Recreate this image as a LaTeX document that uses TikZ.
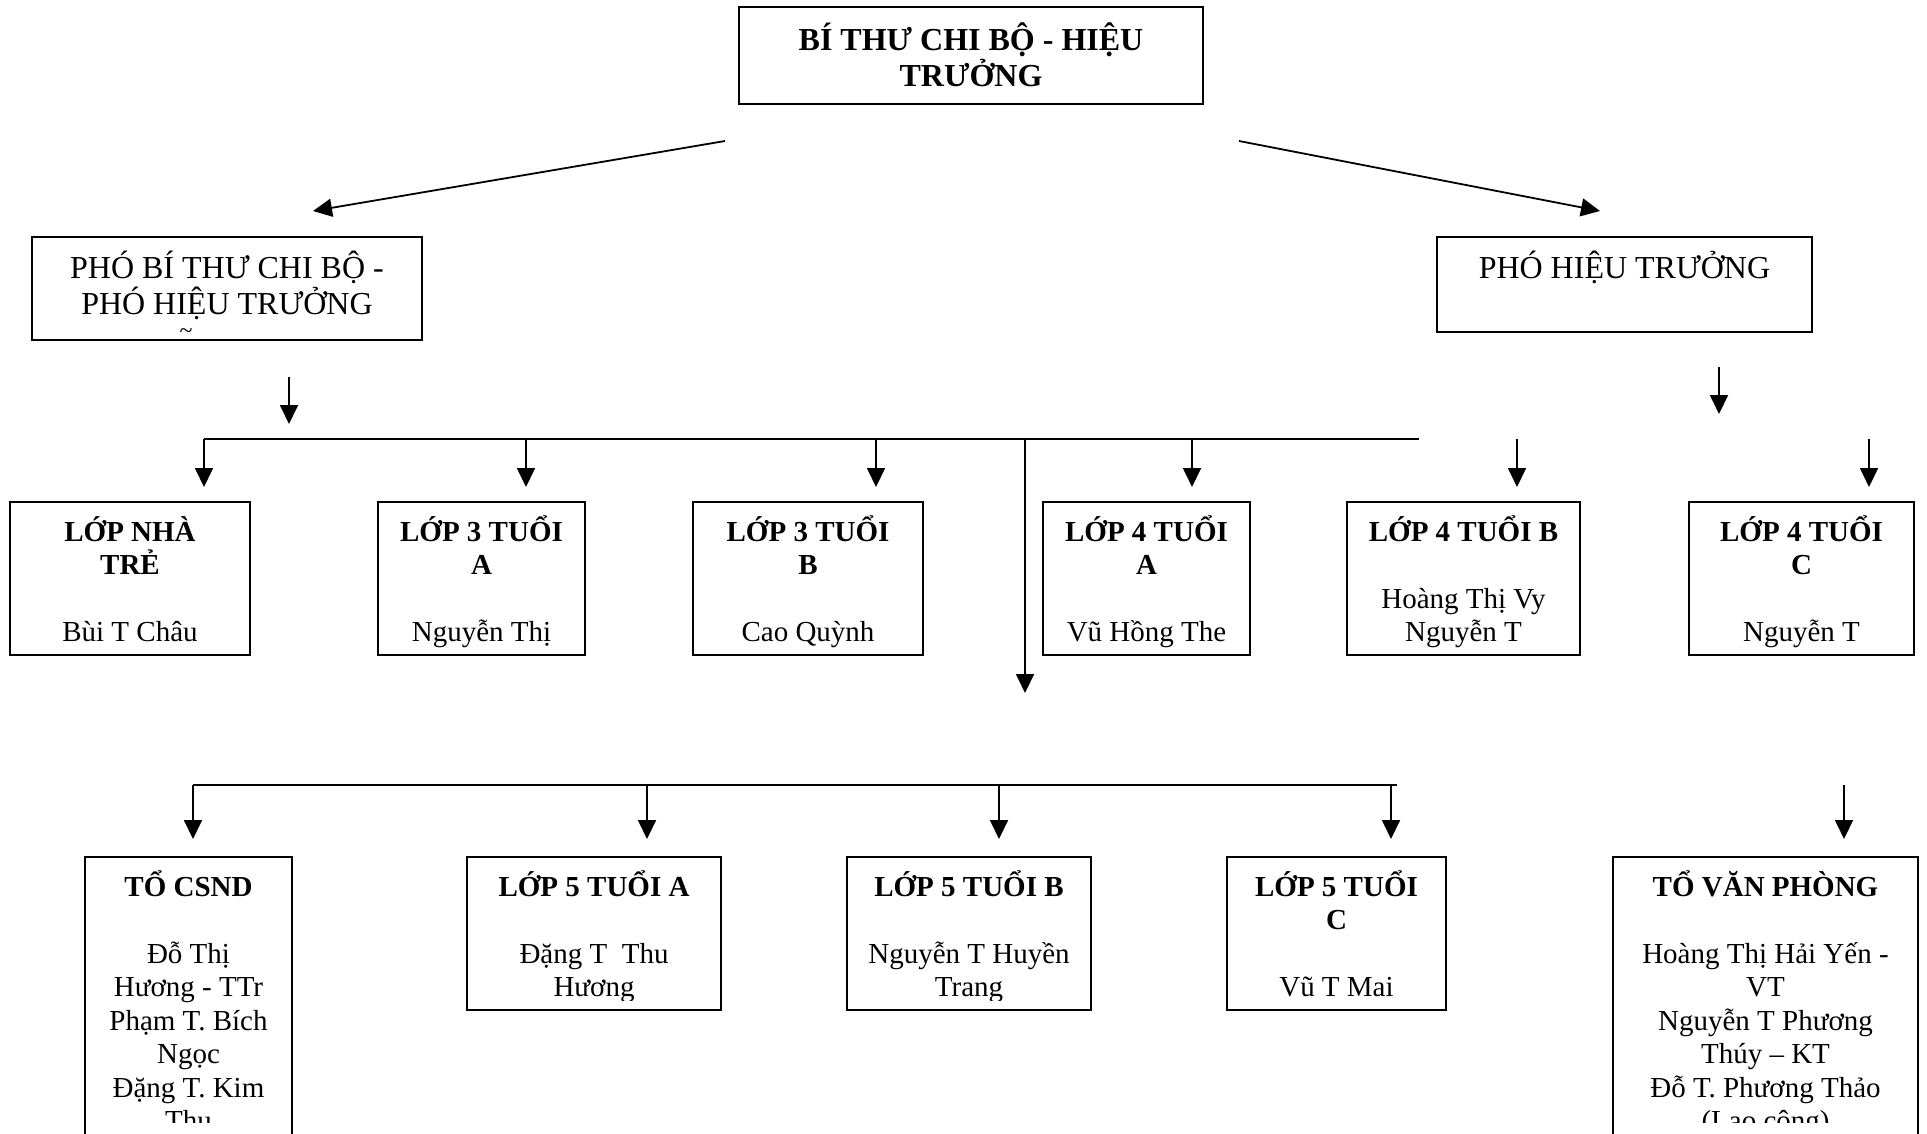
\documentclass[tikz,border=0pt]{standalone}
\usepackage{fontspec}
\setmainfont{Liberation Serif}
\usetikzlibrary{arrows.meta}
\tikzset{
  orgframe/.style={draw, line width=1.8pt, inner sep=0pt, outer sep=0pt},
  txt/.style={inner sep=0pt, font={\fontsize{29}{33.5}\selectfont}},
  bigtxt/.style={inner sep=0pt, font={\fontsize{32}{36.5}\selectfont}},
  arr/.style={-{Triangle[length=19pt,width=18pt]}, line width=1.8pt},
  ln/.style={line width=1.8pt}
}
% #1 name, #2 x1, #3 y1, #4 x2, #5 y2, #6 clip y, #7 first baseline offset, #8 text style, #9 text
\newcommand{\orgbox}[9]{%
  \pgfmathsetmacro\obw{#4-#2}%
  \node[orgframe, anchor=north west, minimum width={#4-#2}, minimum height={#5-#3}] (#1) at (#2,#3) {};
  \begin{scope}
    \clip (#2,#3) rectangle (#4,#6);
    \node[#8, anchor=base] (#1-t) at ({(#2+#4)/2},{#3+#7}) {\parbox[t]{\obw pt}{\centering #9}};
  \end{scope}}
\begin{document}
\begin{tikzpicture}[x=1pt,y=-1pt]
\useasboundingbox (0,0) rectangle (1927,1133);
\clip (0,0) rectangle (1927,1133);

% level 0
\orgbox{top}{739}{7}{1203}{104}{104}{43}{bigtxt}{\textbf{BÍ THƯ CHI BỘ - HIỆU\\TRƯỞNG}}
% level 1
\orgbox{pbt}{32}{237}{422}{340}{340}{41}{bigtxt}{PHÓ BÍ THƯ CHI BỘ -\\PHÓ HIỆU TRƯỞNG}
\node[inner sep=0pt, font={\fontsize{24}{24}\selectfont}] (stray) at (186,334) {\textasciitilde};
\orgbox{pht}{1437}{237}{1812}{332}{332}{41}{bigtxt}{PHÓ HIỆU TRƯỞNG}

% level 2 row 1
\orgbox{l1}{10}{502}{250}{655}{647}{39}{txt}{\textbf{LỚP NHÀ\\TRẺ}\\[\baselineskip]Bùi T Châu}
\orgbox{l2}{378}{502}{585}{655}{647}{39}{txt}{\textbf{LỚP 3 TUỔI\\A}\\[\baselineskip]Nguyễn Thị}
\orgbox{l3}{693}{502}{923}{655}{647}{39}{txt}{\textbf{LỚP 3 TUỔI\\B}\\[\baselineskip]Cao Quỳnh}
\orgbox{l4}{1043}{502}{1250}{655}{647}{39}{txt}{\textbf{LỚP 4 TUỔI\\A}\\[\baselineskip]Vũ Hồng The}
\orgbox{l5}{1347}{502}{1580}{655}{647}{39}{txt}{\textbf{LỚP 4 TUỔI B}\\[\baselineskip]Hoàng Thị Vy\\Nguyễn T}
\orgbox{l6}{1689}{502}{1914}{655}{647}{39}{txt}{\textbf{LỚP 4 TUỔI\\C}\\[\baselineskip]Nguyễn T}

% level 2 row 2
\orgbox{csnd}{85}{857}{292}{1145}{1122}{39}{txt}{\textbf{TỔ CSND}\\[\baselineskip]Đỗ Thị\\Hương - TTr\\Phạm T. Bích\\Ngọc\\Đặng T. Kim\\Thu}
\orgbox{m5a}{467}{857}{721}{1010}{1000}{39}{txt}{\textbf{LỚP 5 TUỔI A}\\[\baselineskip]Đặng T\ \ Thu\\Hương}
\orgbox{m5b}{847}{857}{1091}{1010}{1000}{39}{txt}{\textbf{LỚP 5 TUỔI B}\\[\baselineskip]Nguyễn T Huyền\\Trang}
\orgbox{m5c}{1227}{857}{1446}{1010}{1000}{39}{txt}{\textbf{LỚP 5 TUỔI\\C}\\[\baselineskip]Vũ T Mai}
\orgbox{vp}{1613}{857}{1918}{1145}{1122}{39}{txt}{\textbf{TỔ VĂN PHÒNG}\\[\baselineskip]Hoàng Thị Hải Yến -\\VT\\Nguyễn T Phương\\Thúy – KT\\Đỗ T. Phương Thảo\\(Lao công)}

% connector coordinates
\coordinate (dl0) at (725,141);  \coordinate (dl1) at (313,211);
\coordinate (dr0) at (1239,141); \coordinate (dr1) at (1600,211);
\coordinate (sl0) at (289,377);  \coordinate (sl1) at (289,424);
\coordinate (sr0) at (1719,367); \coordinate (sr1) at (1719,414);
\coordinate (bus1a) at (204,439); \coordinate (bus1b) at (1419,439);
\coordinate (bus2a) at (193,785); \coordinate (bus2b) at (1397,785);
\coordinate (long1) at (1025,693);
\coordinate (r6a) at (1869,439); \coordinate (r5a) at (1517,439);
\coordinate (vpa) at (1844,785);

% top diagonals
\draw[arr] (dl0) -- (dl1);
\draw[arr] (dr0) -- (dr1);
% small arrows under level 1
\draw[arr] (sl0) -- (sl1);
\draw[arr] (sr0) -- (sr1);

% bus 1
\draw[ln] (bus1a) -- (bus1b);
\draw[arr] (bus1a) -- (204,487);
\draw[arr] (526,439) -- (526,487);
\draw[arr] (876,439) -- (876,487);
\draw[arr] (1192,439) -- (1192,487);
\draw[arr] (r5a) -- (1517,487);
\draw[arr] (r6a) -- (1869,487);
\draw[arr] (1025,439) -- (long1);

% bus 2
\draw[ln] (bus2a) -- (bus2b);
\draw[arr] (bus2a) -- (193,839);
\draw[arr] (647,785) -- (647,839);
\draw[arr] (999,785) -- (999,839);
\draw[arr] (1391,785) -- (1391,839);
\draw[arr] (vpa) -- (1844,839);
\end{tikzpicture}
\end{document}
